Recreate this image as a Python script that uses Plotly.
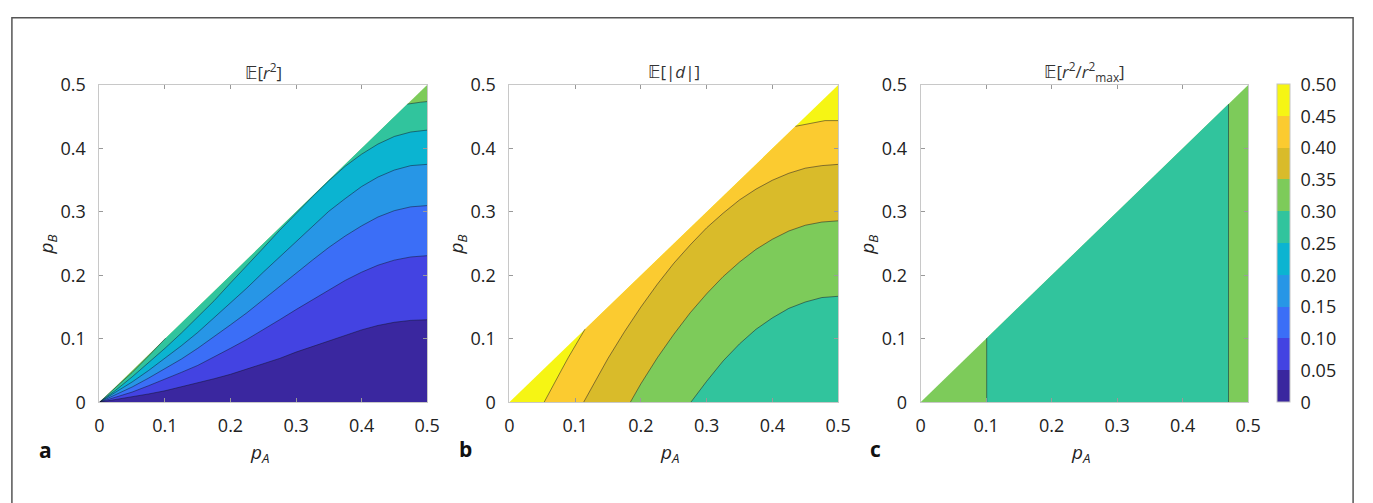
import plotly.graph_objects as go

W, H = 1373, 503

# ---------------- data ----------------
LEVELS = [0, 0.05, 0.10, 0.15, 0.20, 0.25, 0.30, 0.35, 0.40, 0.45, 0.50]
LEVEL_TEXT = ["0", "0.05", "0.10", "0.15", "0.20", "0.25", "0.30", "0.35", "0.40", "0.45", "0.50"]
BAND_COLORS = ["#3A279F", "#4343E2", "#3B6EF7", "#2796E6", "#0BB4D1",
               "#31C49D", "#7DCB5A", "#D9BB2A", "#FBCB30", "#F6F514"]

AXIS_TICKS = [0, 0.1, 0.2, 0.3, 0.4, 0.5]
AXIS_TICK_TEXT = ["0", "0.1", "0.2", "0.3", "0.4", "0.5"]

# domain pB <= pA (triangle)
TRI_X = [0, 0.5, 0.5]
TRI_Y = [0, 0.5, 0]

# panel a : E[r^2]  contour lines (pB as function of pA)
A_PA = [0, 0.025, 0.05, 0.075, 0.1, 0.125, 0.15, 0.175, 0.2, 0.225, 0.25,
        0.275, 0.3, 0.325, 0.35, 0.375, 0.4, 0.425, 0.45, 0.475, 0.5]
A_C005 = [0, 0.004, 0.008, 0.013, 0.018, 0.024, 0.030, 0.037, 0.044, 0.052, 0.060,
          0.069, 0.079, 0.088, 0.097, 0.106, 0.114, 0.121, 0.126, 0.129, 0.130]
A_C010 = [0, 0.008, 0.016, 0.026, 0.036, 0.047, 0.058, 0.071, 0.085, 0.099, 0.114,
          0.130, 0.146, 0.161, 0.177, 0.192, 0.205, 0.216, 0.224, 0.229, 0.231]
A_C015 = [0, 0.012, 0.024, 0.038, 0.053, 0.068, 0.085, 0.103, 0.122, 0.141, 0.162,
          0.183, 0.203, 0.224, 0.244, 0.262, 0.278, 0.292, 0.302, 0.308, 0.310]
A_C020 = [0, 0.016, 0.032, 0.050, 0.069, 0.089, 0.110, 0.133, 0.156, 0.180, 0.205,
          0.229, 0.254, 0.278, 0.301, 0.321, 0.340, 0.355, 0.366, 0.373, 0.375]
A_C025 = [0, 0.019, 0.040, 0.062, 0.085, 0.109, 0.134, 0.160, 0.188, 0.215, 0.243,
          0.271, 0.298, 0.324, 0.349, 0.372, 0.391, 0.407, 0.419, 0.426, 0.429]
A_C030_LOW_X = [0, 0.025, 0.05, 0.075, 0.101]
A_C030_LOW_Y = [0, 0.023, 0.047, 0.073, 0.101]
A_C030_HIGH_X = [0.470, 0.48, 0.49, 0.5]
A_C030_HIGH_Y = [0.470, 0.472, 0.473, 0.474]

# panel b : E[|d|] contour lines
B_C045_LOW_X = [0.053, 0.06, 0.07, 0.08, 0.09, 0.10, 0.11, 0.115]
B_C045_LOW_Y = [0, 0.014, 0.034, 0.052, 0.071, 0.089, 0.106, 0.115]
B_C045_HIGH_X = [0.435, 0.44, 0.45, 0.46, 0.48, 0.5]
B_C045_HIGH_Y = [0.435, 0.436, 0.439, 0.441, 0.444, 0.444]
B_C040_X = [0.113, 0.125, 0.15, 0.175, 0.2, 0.225, 0.25, 0.275, 0.3, 0.325,
            0.35, 0.375, 0.4, 0.425, 0.45, 0.475, 0.5]
B_C040_Y = [0, 0.023, 0.069, 0.111, 0.150, 0.186, 0.219, 0.248, 0.275, 0.298,
            0.319, 0.336, 0.350, 0.361, 0.369, 0.373, 0.375]
B_C035_X = [0.184, 0.19, 0.2, 0.225, 0.25, 0.275, 0.3, 0.325, 0.35, 0.375,
            0.4, 0.425, 0.45, 0.475, 0.5]
B_C035_Y = [0, 0.011, 0.029, 0.070, 0.107, 0.141, 0.171, 0.198, 0.221, 0.241,
            0.257, 0.270, 0.279, 0.284, 0.286]
B_C030_X = [0.276, 0.3, 0.325, 0.35, 0.375, 0.4, 0.425, 0.45, 0.475, 0.5]
B_C030_Y = [0, 0.033, 0.065, 0.092, 0.115, 0.133, 0.148, 0.158, 0.165, 0.167]

# panel c : E[r^2/r^2max] contour 0.30 (vertical lines at these pA)
C_C030_X = [0.101, 0.470]

TITLES = ["\U0001D53C[<i>r</i><sup>2</sup>]",
          "\U0001D53C[|<i>d</i>|]",
          "\U0001D53C[<i>r</i><sup>2</sup>/<i>r</i><sup>2</sup><sub>max</sub>]"]
PANEL_LETTERS = ["a", "b", "c"]

# ---------------- layout geometry (pixels) ----------------
PLOT_X = [(95.7, 427.7), (511.0, 844.3), (927.7, 1259.7)]
PLOT_TOP, PLOT_BOTTOM = 75.7, 408.7


def px(x):
    return x / W


def py(y):
    return 1 - y / H


LINE_COLOR = "rgba(20,20,40,0.55)"

fig = go.Figure()


def add_poly(xs, ys, color, ax):
    fig.add_trace(go.Scatter(x=xs, y=ys, mode="lines", fill="toself",
                             fillcolor=color, line=dict(width=0),
                             hoverinfo="skip", showlegend=False,
                             xaxis="x" + ax, yaxis="y" + ax))


def add_line(xs, ys, ax):
    fig.add_trace(go.Scatter(x=xs, y=ys, mode="lines",
                             line=dict(color=LINE_COLOR, width=0.9),
                             hoverinfo="skip", showlegend=False,
                             xaxis="x" + ax, yaxis="y" + ax))


# ---- panel a ----
add_poly(TRI_X, TRI_Y, BAND_COLORS[6], "")
add_poly(A_C030_LOW_X + A_C030_HIGH_X + [0.5], A_C030_LOW_Y + A_C030_HIGH_Y + [0],
         BAND_COLORS[5], "")
for curve, ci in [(A_C025, 4), (A_C020, 3), (A_C015, 2), (A_C010, 1), (A_C005, 0)]:
    add_poly(A_PA + [0.5], curve + [0], BAND_COLORS[ci], "")
for curve in [A_C025, A_C020, A_C015, A_C010, A_C005]:
    add_line(A_PA, curve, "")
add_line(A_C030_LOW_X, A_C030_LOW_Y, "")
add_line(A_C030_HIGH_X, A_C030_HIGH_Y, "")

# ---- panel b ----
add_poly(TRI_X, TRI_Y, BAND_COLORS[9], "2")
add_poly(B_C045_LOW_X + B_C045_HIGH_X + [0.5], B_C045_LOW_Y + B_C045_HIGH_Y + [0],
         BAND_COLORS[8], "2")
for xs, ys, ci in [(B_C040_X, B_C040_Y, 7), (B_C035_X, B_C035_Y, 6), (B_C030_X, B_C030_Y, 5)]:
    add_poly(xs + [0.5], ys + [0], BAND_COLORS[ci], "2")
add_line(B_C045_LOW_X, B_C045_LOW_Y, "2")
add_line(B_C045_HIGH_X, B_C045_HIGH_Y, "2")
for xs, ys in [(B_C040_X, B_C040_Y), (B_C035_X, B_C035_Y), (B_C030_X, B_C030_Y)]:
    add_line(xs, ys, "2")

# ---- panel c ----
add_poly(TRI_X, TRI_Y, BAND_COLORS[6], "3")
x0, x1 = C_C030_X
add_poly([x0, x0, x1, x1], [0, x0, x1, 0], BAND_COLORS[5], "3")
for xv in C_C030_X:
    add_line([xv, xv], [0, xv], "3")

# ---- colorbar carrier ----
cs = []
for i, c in enumerate(BAND_COLORS):
    cs.append([i / 10, c])
    cs.append([(i + 1) / 10, c])
fig.add_trace(go.Scatter(
    x=[0.25], y=[0.05], mode="markers", xaxis="x3", yaxis="y3",
    hoverinfo="skip", showlegend=False,
    marker=dict(size=1, opacity=0, color=[0.25], colorscale=cs, cmin=0, cmax=0.5,
                showscale=True,
                colorbar=dict(x=px(1289), xanchor="left", y=py(409), yanchor="bottom",
                              len=(409 - 75) / H, lenmode="fraction",
                              thickness=13, thicknessmode="pixels",
                              xpad=0, ypad=0, outlinewidth=1, outlinecolor="#c4c4c4",
                              tickvals=LEVELS, ticktext=LEVEL_TEXT,
                              ticks="outside", ticklen=7, tickcolor="rgba(0,0,0,0)",
                              tickfont=dict(family="Open Sans", size=18, color="#222")))))

axis_common = dict(range=[0, 0.5], tickvals=AXIS_TICKS, ticktext=AXIS_TICK_TEXT,
                   ticks="inside", ticklen=4, tickcolor="#999", tickwidth=1,
                   showline=True, linecolor="#c8c8c8", linewidth=1, mirror="ticks",
                   showgrid=False, zeroline=False, fixedrange=True,
                   tickfont=dict(family="Open Sans", size=18, color="#222"))

layout = dict(width=W, height=H, margin=dict(l=0, r=0, t=0, b=0),
              paper_bgcolor="white", plot_bgcolor="white", showlegend=False)
for i, (xa, xb) in enumerate(PLOT_X):
    sfx = "" if i == 0 else str(i + 1)
    layout["xaxis" + sfx] = dict(axis_common, domain=[px(xa), px(xb)],
                                 anchor="y" + sfx, ticklabelstandoff=7)
    layout["yaxis" + sfx] = dict(axis_common, domain=[py(PLOT_BOTTOM), py(PLOT_TOP)],
                                 anchor="x" + sfx, ticklabelstandoff=9)
fig.update_layout(**layout)

annotations = []
letter_pos = [(41, 459), (467, 458), (882, 458)]
for i, (xa, xb) in enumerate(PLOT_X):
    cx = (xa + xb) / 2
    annotations.append(dict(x=px(cx), y=py(61), xref="paper", yref="paper",
                            text=TITLES[i], showarrow=False, xanchor="center", yanchor="middle",
                            font=dict(family="Open Sans, DejaVu Sans", size=17, color="#333")))
    annotations.append(dict(x=px(cx - 4), y=py(458), xref="paper", yref="paper",
                            text="<i>p</i><sub><i>A</i></sub>", showarrow=False,
                            xanchor="center", yanchor="top", yshift=12,
                            font=dict(family="Open Sans", size=19, color="#222")))
    annotations.append(dict(x=px(xa - 53), y=py(243), xref="paper", yref="paper",
                            text="<i>p</i><sub><i>B</i></sub>", showarrow=False, textangle=-90,
                            xanchor="center", yanchor="middle",
                            font=dict(family="Open Sans", size=19, color="#222")))
    lx, ly = letter_pos[i]
    annotations.append(dict(x=px(lx), y=py(ly), xref="paper", yref="paper",
                            text="<b>" + PANEL_LETTERS[i] + "</b>", showarrow=False,
                            xanchor="center", yanchor="middle",
                            font=dict(family="Open Sans", size=21, color="#111")))
fig.update_layout(annotations=annotations)

fig.add_shape(type="rect", xref="paper", yref="paper",
              x0=px(7), x1=px(1366), y0=-0.2, y1=py(5),
              line=dict(color="#555", width=1.5), fillcolor="rgba(0,0,0,0)", layer="above")

fig.write_html("out.html")
